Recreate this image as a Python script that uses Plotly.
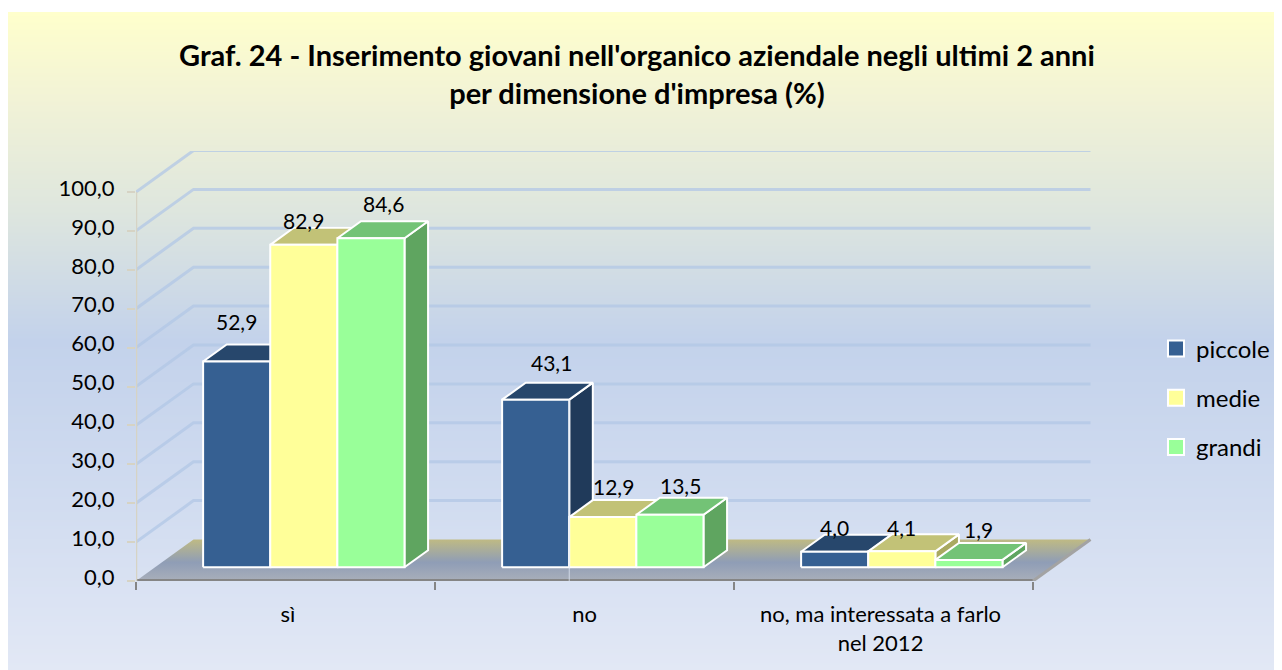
import base64, struct, zlib
import plotly.graph_objects as go

# ---- data ----
categories = ["sì", "no", "no, ma interessata a farlo<br>nel 2012"]
series_names = ["piccole", "medie", "grandi"]
piccole = [52.9, 43.1, 4.0]
medie = [82.9, 12.9, 4.1]
grandi = [84.6, 13.5, 1.9]
y_ticks = [0, 10, 20, 30, 40, 50, 60, 70, 80, 90, 100]
title = "Graf. 24 - Inserimento giovani nell'organico aziendale negli ultimi 2 anni<br>per dimensione d'impresa (%)"

# ---- styles ----
FONT = "Lato"
front = ["#366092", "#FFFF99", "#99FF99"]
top_c = ["#27476C", "#C2C277", "#73C376"]
side_c = ["#203A5A", "#A9A961", "#5FA560"]
# label nudges in px (dx, dy) relative to the top of each bar's front face
nudges = [
    [(0, 40), (0, 24), (13, 35)],
    [(16, 37), (11, 31), (11, 29)],
    [(0, 24), (0, 24), (10, 30)],
]

PX_X = 299.0   # px per category
PX_Y = 3.89    # px per value unit
DX = 57.5 / PX_X   # depth offset in x units
DY = 41.5 / PX_Y   # depth offset in y units
GAP = 0.161
BW = 0.2245
D0, D1 = 0.33, 0.74
PLOT_W, PLOT_H = 1146, 430


def P(x, v, d):
    return x + d * DX, v + d * DY


def poly(pts, fill, line="white", lw=2, **kw):
    xs = [p[0] for p in pts] + [pts[0][0]]
    ys = [p[1] for p in pts] + [pts[0][1]]
    return go.Scatter(x=xs, y=ys, mode="lines", fill="toself", fillcolor=fill,
                      line=dict(color=line, width=lw), hoverinfo="skip",
                      showlegend=False, cliponaxis=False, **kw)


def line(pts, color, w):
    return go.Scatter(x=[p[0] for p in pts], y=[p[1] for p in pts], mode="lines",
                      line=dict(color=color, width=w), hoverinfo="skip", showlegend=False,
                      cliponaxis=False)


# background gradient as a 1-pixel-wide PNG
stops = [(0.0, (255, 255, 204)), (0.13, (242, 243, 214)), (0.3, (222, 230, 222)),
         (0.5, (195, 210, 235)), (0.75, (209, 220, 240)), (1.0, (226, 232, 245))]


def grad(t):
    for (a, ca), (b, cb) in zip(stops, stops[1:]):
        if t <= b:
            f = (t - a) / (b - a)
            return bytes(round(p + (q - p) * f) for p, q in zip(ca, cb))
    return bytes(stops[-1][1])


H_BG = 658
raw = b"".join(b"\x00" + grad(i / (H_BG - 1)) for i in range(H_BG))


def chunk(tag, data):
    c = struct.pack(">I", len(data)) + tag + data
    return c + struct.pack(">I", zlib.crc32(tag + data) & 0xffffffff)


png = (b"\x89PNG\r\n\x1a\n" + chunk(b"IHDR", struct.pack(">IIBBBBB", 1, H_BG, 8, 2, 0, 0, 0))
       + chunk(b"IDAT", zlib.compress(raw)) + chunk(b"IEND", b""))
bg_uri = "data:image/png;base64," + base64.b64encode(png).decode()

fig = go.Figure()

# floor
ncat = len(categories)
fig.add_trace(go.Scatter(
    x=[P(0, 0, 0)[0], P(ncat, 0, 0)[0], P(ncat, 0, 1)[0], P(0, 0, 1)[0], P(0, 0, 0)[0]],
    y=[P(0, 0, 0)[1], P(ncat, 0, 0)[1], P(ncat, 0, 1)[1], P(0, 0, 1)[1], P(0, 0, 0)[1]],
    mode="lines", line=dict(width=0), fill="toself", hoverinfo="skip", showlegend=False,
    fillgradient=dict(type="vertical",
                      colorscale=[[0, "#A9AFBA"], [0.45, "#8F9DB6"], [1, "#BFBA84"]])))

# gridlines on side and back walls
for t in y_ticks[1:]:
    fig.add_trace(line([P(0, t, 0), P(0, t, 1), P(ncat, t, 1)], "rgba(178,199,230,0.75)", 3))

# axis edges of the floor
fig.add_trace(line([P(0, 0, 0), P(ncat, 0, 0)], "#858585", 4))
fig.add_trace(line([P(ncat, 0, 0), P(ncat, 0, 1)], "#A3A3A3", 3))
fig.add_trace(line([P(0, 0, 0), P(0, 100, 0)], "#D6D3C4", 2.5))

# bars
annotations = []
table = [piccole, medie, grandi]
for c in range(ncat):
    for s, vals in enumerate(table):
        v = vals[c]
        x0 = c + GAP + s * BW
        x1 = x0 + BW
        fig.add_trace(poly([P(x1, 0, D0), P(x1, 0, D1), P(x1, v, D1), P(x1, v, D0)], side_c[s]))
        fig.add_trace(poly([P(x0, v, D0), P(x0, v, D1), P(x1, v, D1), P(x1, v, D0)], top_c[s]))
        fig.add_trace(poly([P(x0, 0, D0), P(x1, 0, D0), P(x1, v, D0), P(x0, v, D0)], front[s]))
        cx, cy = P((x0 + x1) / 2, v, D0)
        dx, dy = nudges[c][s]
        annotations.append(dict(x=cx, y=cy, xref="x", yref="y", xshift=dx, yshift=dy,
                                text=f"{v:.1f}".replace(".", ","), showarrow=False,
                                font=dict(family=FONT, size=21, color="#000000")))

# thin hairline at the right edge of the "no" piccole bar
hx = P(1 + GAP + BW, 0, D0)[0]
fig.add_trace(line([(hx, 0), (hx, P(0, piccole[1], D0)[1])], "rgba(225,232,245,0.75)", 1))

# legend entries
for s, name in enumerate(series_names):
    fig.add_trace(go.Scatter(x=[None], y=[None], mode="markers", name=name, legendgroup=name,
                             marker=dict(symbol="square", size=16, color=front[s],
                                         line=dict(color="white", width=2))))

fig.update_layout(
    width=1274, height=662,
    margin=dict(l=128, r=0, t=143, b=89),
    paper_bgcolor="white", plot_bgcolor="rgba(0,0,0,0)",
    separators=",.",
    title=dict(text=title, x=0.4937, xanchor="center", xref="container", y=0.912, yanchor="top",
               font=dict(family=FONT, size=29, color="#000000", weight="bold")),
    font=dict(family=FONT, size=21, color="#000000"),
    annotations=annotations,
    showlegend=True,
    legend=dict(x=1020 / PLOT_W, xanchor="left", y=183 / PLOT_H, yanchor="middle", tracegroupgap=15,
                bgcolor="rgba(0,0,0,0)", font=dict(family=FONT, size=24), itemwidth=30,
                traceorder="grouped"),
    images=[dict(source=bg_uri, xref="paper", yref="paper", layer="below", sizing="stretch",
                 x=-128 / PLOT_W, y=1 + 139 / PLOT_H, sizex=1274 / PLOT_W, sizey=658 / PLOT_H,
                 xanchor="left", yanchor="top")],
    xaxis=dict(range=[0, PLOT_W / PX_X], showgrid=False, zeroline=False, showline=False,
               tickmode="array", tickvals=[0.508, 1.5, 2.49], ticktext=categories,
               ticks="outside", ticklen=0, tickcolor="rgba(0,0,0,0)", ticklabelstandoff=14,
               tickfont=dict(family=FONT, size=22),
               minor=dict(tickmode="array", tickvals=list(range(ncat + 1)), ticks="outside",
                          ticklen=8, tickcolor="#858585", tickwidth=1.5, showgrid=False)),
    yaxis=dict(range=[0, PLOT_H / PX_Y], showgrid=False, zeroline=False, showline=False,
               tickmode="array", tickvals=y_ticks, tickformat=".1f",
               ticks="outside", ticklen=8, tickcolor="#D6D3C4", tickwidth=2,
               ticklabelstandoff=8, ticklabelshift=-4, tickfont=dict(family=FONT, size=22)),
)
fig.write_html("out.html")
